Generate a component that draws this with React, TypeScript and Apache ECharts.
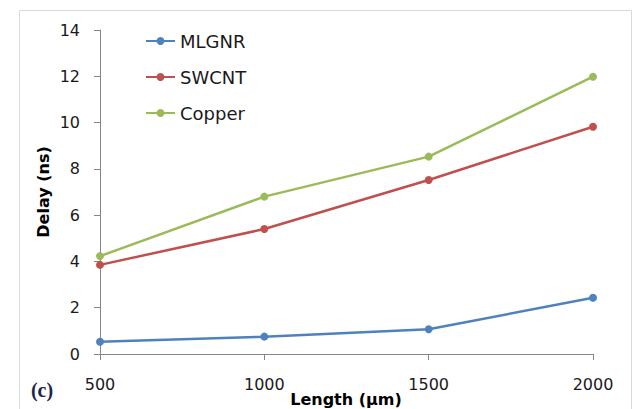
import React, { useEffect, useRef } from "react";
import * as echarts from "echarts";

const lengths = [500, 1000, 1500, 2000];
const mlgnr = [0.53, 0.75, 1.07, 2.43];
const swcnt = [3.85, 5.4, 7.52, 9.82];
const copper = [4.23, 6.8, 8.53, 11.98];
const seriesNames = ["MLGNR", "SWCNT", "Copper"];
const colors = ["#4F81BD", "#C0504D", "#9BBB59"];

export default function App() {
  const ref = useRef<HTMLDivElement>(null);
  useEffect(() => {
    document.body.style.margin = "0";
    const chart = echarts.init(ref.current!, undefined, { renderer: "svg" });
    const font = "'DejaVu Sans', sans-serif";
    const datasets = [mlgnr, swcnt, copper];
    chart.setOption({
      animation: false,
      textStyle: { fontFamily: font },
      grid: { left: 100, right: 47, top: 30, bottom: 55 },
      legend: {
        orient: "vertical",
        left: 140,
        top: 27,
        itemWidth: 29,
        itemHeight: 10,
        itemGap: 18,
        textStyle: { fontSize: 18, color: "#1a1a1a", fontFamily: font },
        data: seriesNames,
      },
      xAxis: {
        type: "value",
        min: 500,
        max: 2000,
        interval: 500,
        axisLine: { show: true, lineStyle: { color: "#868686", width: 1 } },
        axisTick: { show: true, length: 6, inside: false, lineStyle: { color: "#868686" } },
        axisLabel: {
          fontSize: 16,
          color: "#1a1a1a",
          margin: 22,
          fontFamily: font,
          formatter: (v: number) => String(v),
        },
        splitLine: { show: false },
      },
      yAxis: {
        type: "value",
        min: 0,
        max: 14,
        interval: 2,
        axisLine: { show: true, lineStyle: { color: "#868686", width: 1 } },
        axisTick: { show: true, length: 6, inside: false, lineStyle: { color: "#868686" } },
        axisLabel: { fontSize: 16, color: "#1a1a1a", margin: 20, fontFamily: font },
        splitLine: { show: false },
      },
      series: seriesNames.map((name, i) => ({
        name,
        type: "line",
        data: lengths.map((x, j) => [x, datasets[i][j]]),
        symbol: "circle",
        symbolSize: 8,
        lineStyle: { width: 2.5, color: colors[i] },
        itemStyle: { color: colors[i] },
      })),
      graphic: [
        {
          type: "rect",
          shape: { x: 19.5, y: 10.5, width: 612, height: 420 },
          style: { fill: "none", stroke: "#d9d9d9", lineWidth: 1 },
          silent: true,
          z: -1,
        },
        {
          type: "text",
          x: 43.5,
          y: 192,
          rotation: Math.PI / 2,
          style: {
            text: "Delay (ns)",
            font: `bold 16px ${font}`,
            fill: "#000",
            align: "center",
            verticalAlign: "middle",
          },
        },
        {
          type: "text",
          x: 346,
          y: 399,
          style: {
            text: "Length (μm)",
            font: `bold 16px ${font}`,
            fill: "#000",
            align: "center",
            verticalAlign: "middle",
          },
        },
        {
          type: "text",
          x: 42,
          y: 390,
          style: {
            text: "(c)",
            font: "bold 20px 'Liberation Serif', serif",
            fill: "#1c2748",
            align: "center",
            verticalAlign: "middle",
          },
        },
      ],
    });
    return () => chart.dispose();
  }, []);
  return (
    <div
      ref={ref}
      style={{ position: "absolute", left: 0, top: 0, width: 640, height: 409 }}
    />
  );
}
